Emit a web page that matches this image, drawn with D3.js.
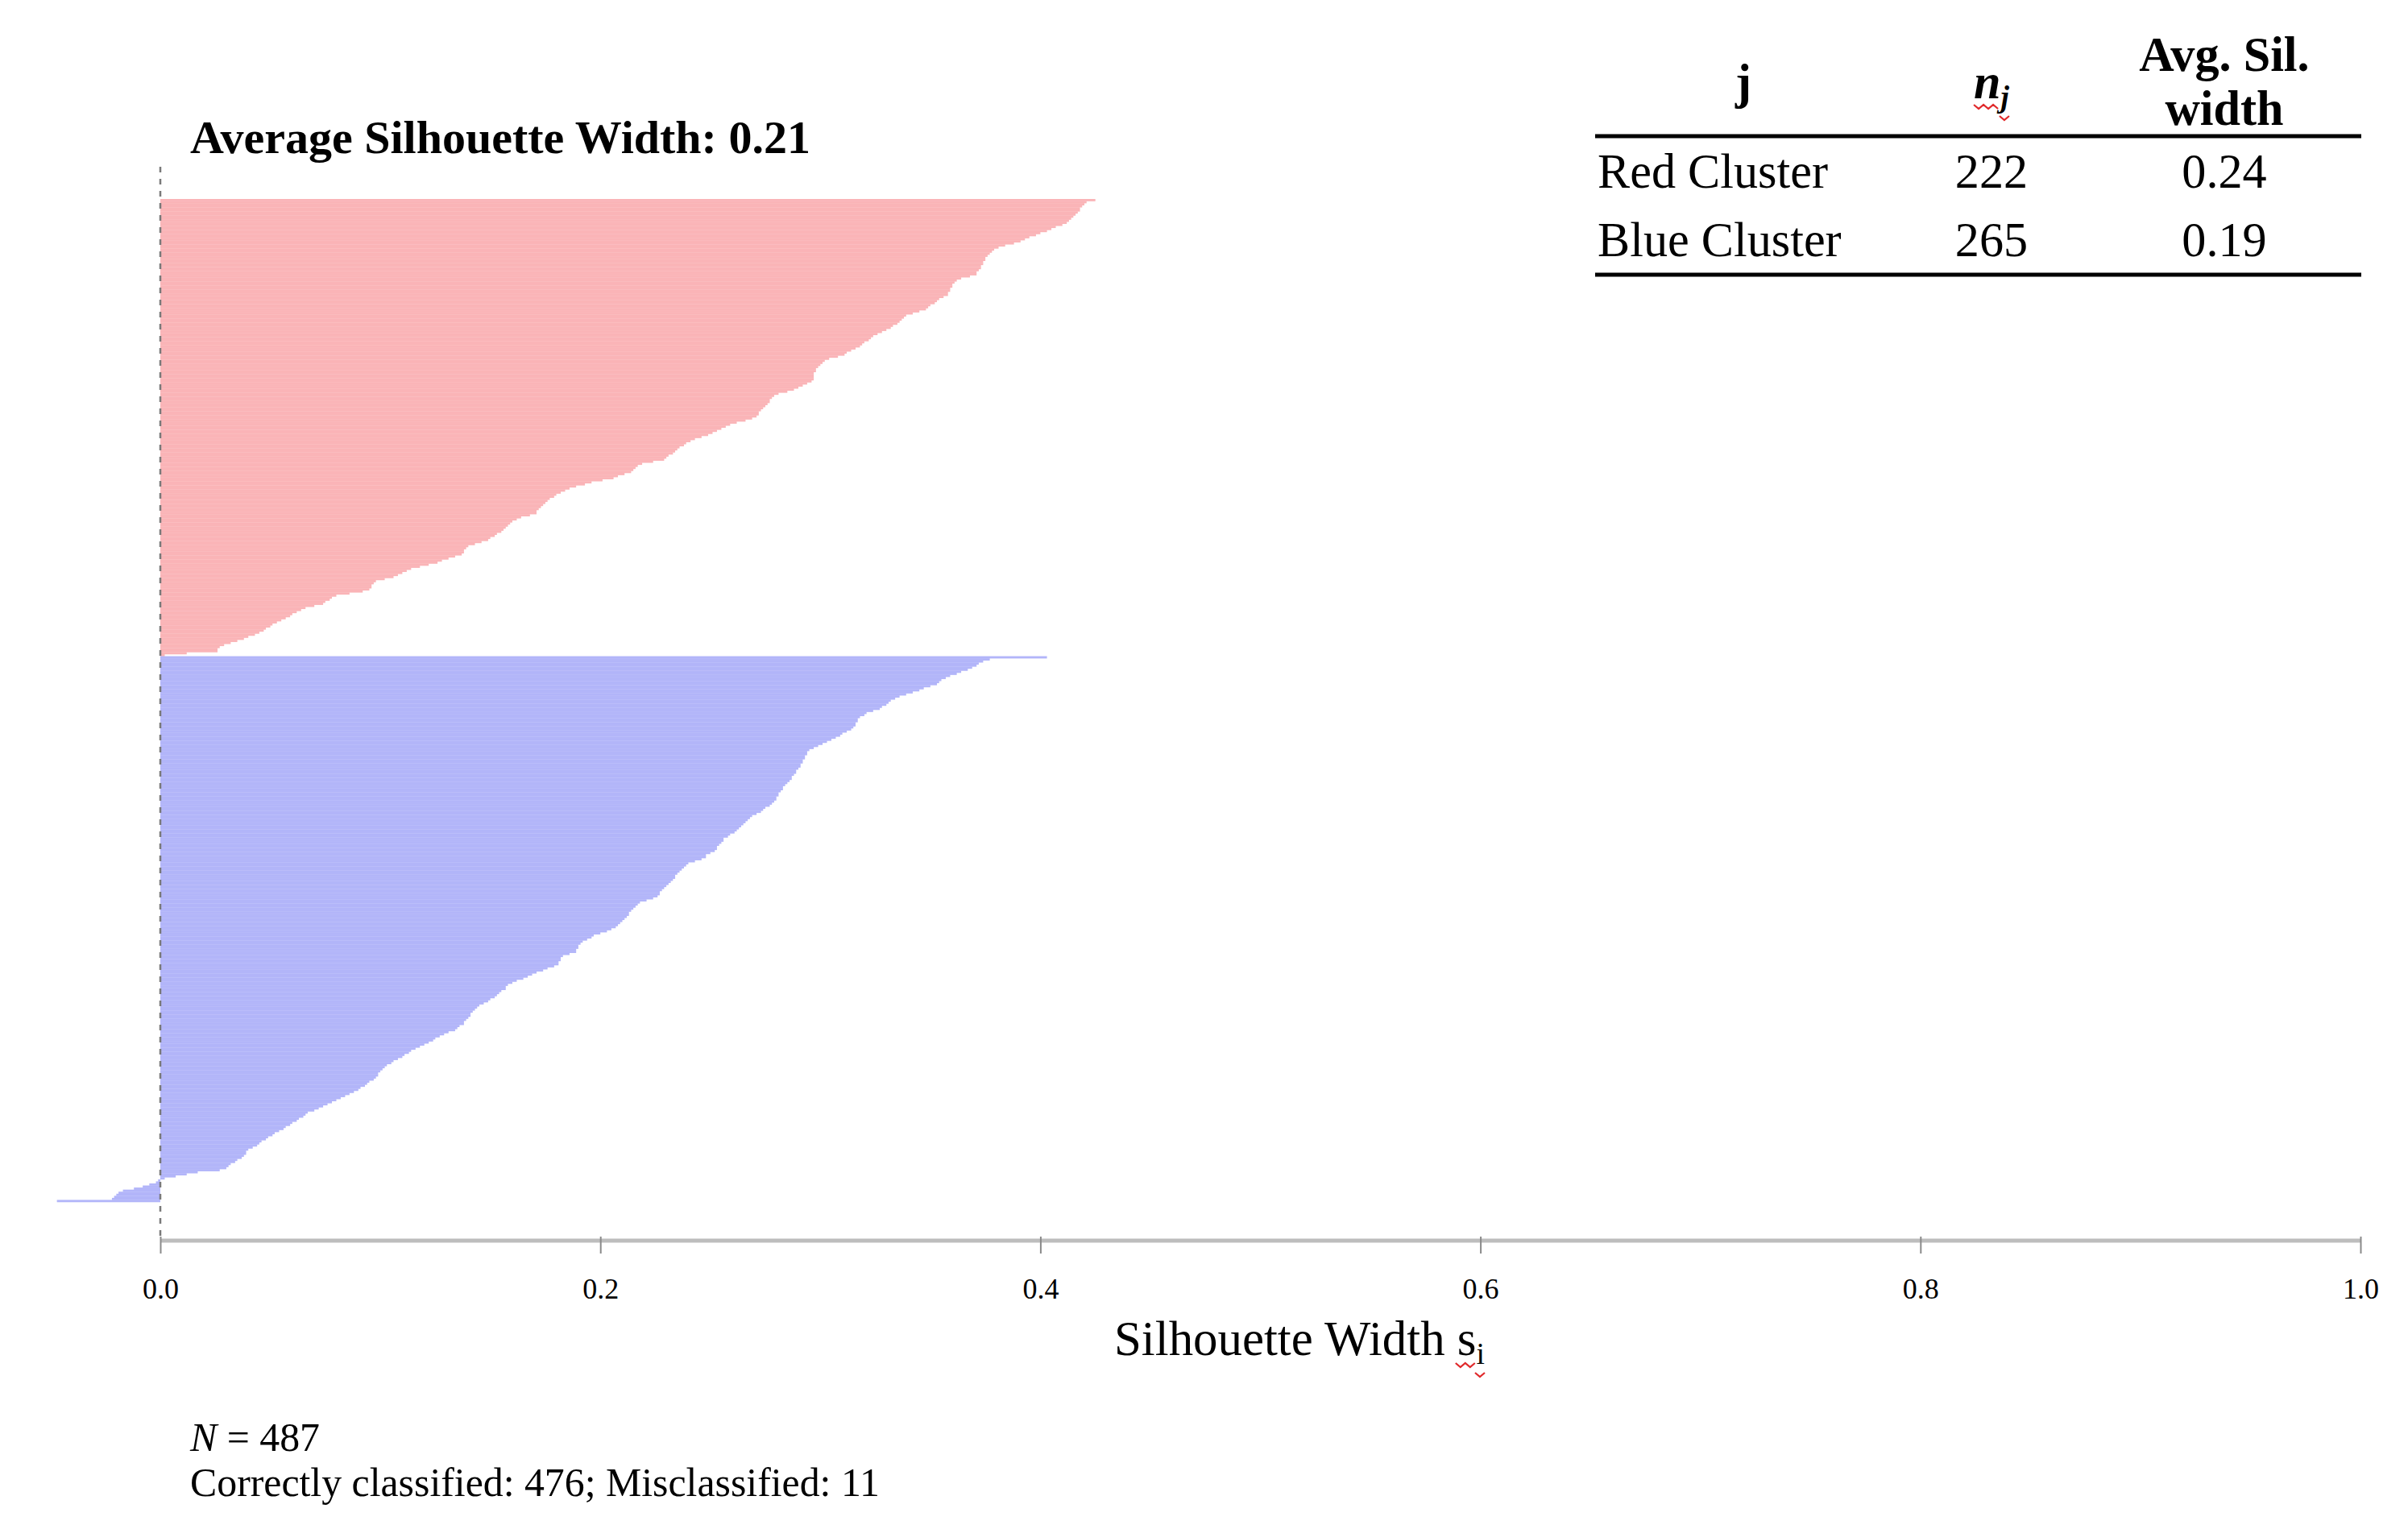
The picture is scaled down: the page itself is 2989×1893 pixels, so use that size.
<!DOCTYPE html>
<html>

<head>
	<meta charset="utf-8">
	<title>Silhouette Plot</title>
	<script src="https://d3js.org/d3.v7.min.js"></script>
	<style>
		html, body { margin: 0; padding: 0; background: #fff; }
		svg { display: block; }
		text { font-family: "Liberation Serif", "DejaVu Serif", serif; fill: #000; }
	</style>
</head>

<body>
	<div id="chart"></div>

	<script>
		// Silhouette widths, sorted within each cluster
		const redValues = [
			0.425, 0.421, 0.420, 0.419, 0.418, 0.418, 0.417, 0.416, 0.415, 0.414,
			0.413, 0.412, 0.410, 0.407, 0.405, 0.403, 0.400, 0.398, 0.395, 0.393,
			0.391, 0.388, 0.384, 0.381, 0.379, 0.378, 0.377, 0.376, 0.375, 0.375,
			0.374, 0.374, 0.373, 0.373, 0.372, 0.371, 0.371, 0.368, 0.364, 0.362,
			0.361, 0.360, 0.360, 0.359, 0.359, 0.358, 0.358, 0.356, 0.354, 0.353,
			0.352, 0.350, 0.349, 0.348, 0.345, 0.342, 0.339, 0.338, 0.337, 0.336,
			0.335, 0.333, 0.332, 0.330, 0.328, 0.326, 0.324, 0.323, 0.322, 0.320,
			0.319, 0.318, 0.316, 0.314, 0.312, 0.311, 0.308, 0.304, 0.302, 0.301,
			0.300, 0.299, 0.298, 0.298, 0.297, 0.297, 0.297, 0.297, 0.296, 0.294,
			0.292, 0.290, 0.288, 0.285, 0.281, 0.279, 0.278, 0.277, 0.277, 0.276,
			0.275, 0.274, 0.273, 0.272, 0.272, 0.271, 0.269, 0.266, 0.262, 0.259,
			0.257, 0.255, 0.253, 0.251, 0.249, 0.246, 0.243, 0.241, 0.239, 0.238,
			0.236, 0.235, 0.234, 0.233, 0.231, 0.230, 0.229, 0.224, 0.219, 0.217,
			0.216, 0.215, 0.214, 0.211, 0.208, 0.206, 0.201, 0.196, 0.193, 0.189,
			0.186, 0.184, 0.182, 0.180, 0.179, 0.177, 0.176, 0.175, 0.174, 0.173,
			0.172, 0.171, 0.171, 0.168, 0.164, 0.162, 0.160, 0.159, 0.158, 0.157,
			0.156, 0.155, 0.153, 0.152, 0.150, 0.149, 0.146, 0.143, 0.140, 0.139,
			0.138, 0.138, 0.137, 0.134, 0.131, 0.128, 0.126, 0.122, 0.118, 0.114,
			0.112, 0.110, 0.108, 0.106, 0.102, 0.098, 0.097, 0.096, 0.096, 0.095,
			0.092, 0.086, 0.080, 0.078, 0.077, 0.075, 0.074, 0.070, 0.066, 0.064,
			0.062, 0.060, 0.059, 0.057, 0.055, 0.053, 0.051, 0.050, 0.048, 0.047,
			0.045, 0.043, 0.040, 0.038, 0.035, 0.032, 0.029, 0.027, 0.026, 0.026,
			0.012, 0.002
		];

		const blueValues = [
			0.403, 0.377, 0.374, 0.372, 0.371, 0.369, 0.367, 0.364, 0.362, 0.359,
			0.357, 0.355, 0.354, 0.353, 0.350, 0.347, 0.345, 0.342, 0.339, 0.336,
			0.334, 0.332, 0.331, 0.330, 0.328, 0.327, 0.324, 0.321, 0.320, 0.318,
			0.317, 0.317, 0.316, 0.316, 0.315, 0.314, 0.312, 0.310, 0.309, 0.307,
			0.305, 0.303, 0.301, 0.299, 0.297, 0.295, 0.294, 0.294, 0.293, 0.293,
			0.292, 0.292, 0.291, 0.291, 0.290, 0.289, 0.289, 0.288, 0.287, 0.287,
			0.286, 0.285, 0.284, 0.283, 0.283, 0.282, 0.281, 0.281, 0.280, 0.280,
			0.279, 0.278, 0.277, 0.275, 0.274, 0.273, 0.271, 0.269, 0.268, 0.267,
			0.266, 0.265, 0.264, 0.263, 0.262, 0.261, 0.259, 0.258, 0.256, 0.256,
			0.255, 0.254, 0.253, 0.253, 0.252, 0.250, 0.248, 0.248, 0.246, 0.243,
			0.240, 0.239, 0.238, 0.237, 0.236, 0.235, 0.234, 0.234, 0.233, 0.232,
			0.231, 0.230, 0.229, 0.228, 0.227, 0.227, 0.226, 0.224, 0.221, 0.218,
			0.217, 0.216, 0.215, 0.214, 0.213, 0.213, 0.212, 0.211, 0.210, 0.209,
			0.208, 0.207, 0.205, 0.203, 0.200, 0.197, 0.196, 0.194, 0.192, 0.191,
			0.190, 0.190, 0.189, 0.189, 0.186, 0.183, 0.182, 0.182, 0.181, 0.181,
			0.179, 0.176, 0.174, 0.171, 0.169, 0.167, 0.165, 0.162, 0.160, 0.158,
			0.157, 0.157, 0.155, 0.154, 0.153, 0.152, 0.150, 0.149, 0.147, 0.145,
			0.144, 0.143, 0.142, 0.141, 0.141, 0.140, 0.139, 0.138, 0.138, 0.136,
			0.135, 0.134, 0.131, 0.129, 0.127, 0.125, 0.124, 0.122, 0.120, 0.118,
			0.116, 0.114, 0.113, 0.111, 0.110, 0.108, 0.106, 0.105, 0.103, 0.102,
			0.101, 0.100, 0.099, 0.099, 0.098, 0.097, 0.095, 0.094, 0.093, 0.091,
			0.090, 0.088, 0.086, 0.084, 0.082, 0.080, 0.078, 0.076, 0.074, 0.072,
			0.070, 0.067, 0.066, 0.065, 0.063, 0.062, 0.060, 0.059, 0.057, 0.056,
			0.054, 0.052, 0.051, 0.049, 0.048, 0.046, 0.045, 0.044, 0.042, 0.040,
			0.039, 0.039, 0.038, 0.037, 0.035, 0.034, 0.032, 0.031, 0.030, 0.027,
			0.017, 0.012, 0.007, 0.002, -0.001, -0.002, -0.005, -0.008, -0.012, -0.017,
			-0.019, -0.020, -0.021, -0.022, -0.047
		];

		const xTicks = [0, 0.2, 0.4, 0.6, 0.8, 1.0];

		// Summary table
		const clusterNames = ["Red Cluster", "Blue Cluster"];
		const clusterSizes = [222, 265];
		const clusterAvg = ["0.24", "0.19"];

		const avgWidth = "0.21";
		const totalN = 487;
		const correct = 476;
		const misclassified = 11;

		const clusterColors = ["#fab4b7", "#b2b5f9"];

		// Set up canvas
		const width = 2989;
		const height = 1893;

		const svg = d3.select("#chart")
			.append("svg")
			.attr("width", width)
			.attr("height", height);

		// helper: scale font-size so the text spans a target width
		function fitWidth(sel, target) {
			const w = sel.node().getComputedTextLength();
			const fs = parseFloat(sel.attr("font-size"));
			sel.attr("font-size", fs * target / w);
			return fs * target / w;
		}

		// red spell-check squiggle under a character range
		function squiggle(x0, x1, y0) {
			const pts = [];
			const step = 6;
			for (let i = 0, xx = x0; xx <= x1; i++, xx += step) {
				pts.push([xx, y0 + (i % 2 ? 5 : 0)]);
			}
			svg.append("path")
				.attr("d", d3.line()(pts))
				.attr("fill", "none")
				.attr("stroke", "#e0282a")
				.attr("stroke-width", 2.2);
		}

		// Scales
		const x = d3.scaleLinear()
			.domain([0, 1])
			.range([199, 2930]);

		const bars = redValues.map(v => ({ v: v, cluster: 0 }))
			.concat(blueValues.map(v => ({ v: v, cluster: 1 })));
		bars.forEach((d, i) => d.id = i);

		const y = d3.scaleBand()
			.domain(bars.map(d => d.id))
			.range([247, 1492])
			.padding(0);

		// Bars
		svg.append("g")
			.selectAll("rect")
			.data(bars)
			.enter().append("rect")
			.attr("x", d => x(Math.min(0, d.v)))
			.attr("y", d => y(d.id))
			.attr("width", d => Math.abs(x(d.v) - x(0)))
			.attr("height", y.bandwidth() + 0.3)
			.attr("fill", d => clusterColors[d.cluster]);

		// Dashed zero line
		svg.append("line")
			.attr("x1", x(0)).attr("x2", x(0))
			.attr("y1", 207).attr("y2", 1535)
			.attr("stroke", "#7a7a7a")
			.attr("stroke-width", 2.5)
			.attr("stroke-dasharray", "7,8");

		// X axis
		const axisY = 1540;
		const axis = svg.append("g")
			.attr("transform", `translate(0,${axisY})`)
			.call(d3.axisBottom(x)
				.tickValues(xTicks)
				.tickFormat(d3.format(".1f"))
				.tickSize(16)
				.tickPadding(30));

		axis.select(".domain").remove();
		axis.insert("line", ":first-child")
			.attr("x1", x(0)).attr("x2", x(1))
			.attr("y1", 0).attr("y2", 0)
			.attr("stroke", "#bdbdbd")
			.attr("stroke-width", 5);
		axis.selectAll(".tick line")
			.attr("y1", -5)
			.attr("stroke", "#8a8a8a")
			.attr("stroke-width", 2);
		axis.selectAll(".tick text")
			.attr("font-family", "Liberation Serif")
			.attr("font-size", 36)
			.attr("fill", "#000");

		// X axis label
		const xLabel = svg.append("text")
			.attr("x", 1383)
			.attr("y", 1682)
			.attr("font-size", 58);
		xLabel.append("tspan").text("Silhouette Width s");
		xLabel.append("tspan")
			.attr("font-size", "62%")
			.attr("dy", "0.28em")
			.text("i");
		fitWidth(xLabel, 460);
		{
			const node = xLabel.node();
			const s0 = node.getStartPositionOfChar(17).x;
			const i1 = node.getEndPositionOfChar(18).x;
			squiggle(s0 - 2, s0 + 22, 1692);
			squiggle(i1 - 12, i1 + 4, 1704);
		}

		// Title
		const title = svg.append("text")
			.attr("x", 236)
			.attr("y", 190)
			.attr("font-size", 50)
			.attr("font-weight", "bold")
			.text(`Average Silhouette Width: ${avgWidth}`);
		fitWidth(title, 770);

		// Footnote
		const foot2 = svg.append("text")
			.attr("x", 236)
			.attr("y", 1857)
			.attr("font-size", 44)
			.text(`Correctly classified: ${correct}; Misclassified: ${misclassified}`);
		const footSize = fitWidth(foot2, 856);

		const foot1 = svg.append("text")
			.attr("x", 236)
			.attr("y", 1801)
			.attr("font-size", footSize);
		foot1.append("tspan").attr("font-style", "italic").text("N");
		foot1.append("tspan").text(` = ${totalN}`);

		// Summary table
		const colJ = 2164, colN = 2472, colAvg = 2761, colLeft = 1983;
		const ruleX0 = 1980, ruleX1 = 2931;
		const rowY = [233, 318];

		const probe = svg.append("text")
			.attr("x", colLeft)
			.attr("y", rowY[0])
			.attr("font-size", 56)
			.text(clusterNames[0]);
		const tableSize = fitWidth(probe, 286);
		probe.remove();

		const table = svg.append("g")
			.attr("font-size", tableSize);

		table.append("text")
			.attr("x", colJ).attr("y", 122)
			.attr("text-anchor", "middle")
			.attr("font-weight", "bold")
			.text("j");

		const nHead = table.append("text")
			.attr("x", colN).attr("y", 122)
			.attr("text-anchor", "middle")
			.attr("font-weight", "bold")
			.attr("font-style", "italic");
		nHead.append("tspan").text("n");
		nHead.append("tspan")
			.attr("font-size", "62%")
			.attr("dy", "0.3em")
			.text("j");

		table.append("text")
			.attr("x", colAvg).attr("y", 88)
			.attr("text-anchor", "middle")
			.attr("font-weight", "bold")
			.text("Avg. Sil.");
		table.append("text")
			.attr("x", colAvg).attr("y", 155)
			.attr("text-anchor", "middle")
			.attr("font-weight", "bold")
			.text("width");

		{
			const node = nHead.node();
			const n0 = node.getStartPositionOfChar(0).x;
			const n1 = node.getEndPositionOfChar(0).x;
			const j1 = node.getEndPositionOfChar(1).x;
			squiggle(n0, n1, 130);
			squiggle(j1 - 12, j1 + 2, 144);
		}

		clusterNames.forEach((name, i) => {
			table.append("text")
				.attr("x", colLeft).attr("y", rowY[i])
				.text(name);
			table.append("text")
				.attr("x", colN).attr("y", rowY[i])
				.attr("text-anchor", "middle")
				.text(clusterSizes[i]);
			table.append("text")
				.attr("x", colAvg).attr("y", rowY[i])
				.attr("text-anchor", "middle")
				.text(clusterAvg[i]);
		});

		[169, 341].forEach(ry => {
			table.append("line")
				.attr("x1", ruleX0).attr("x2", ruleX1)
				.attr("y1", ry).attr("y2", ry)
				.attr("stroke", "#000")
				.attr("stroke-width", 5);
		});
	</script>
</body>

</html>
